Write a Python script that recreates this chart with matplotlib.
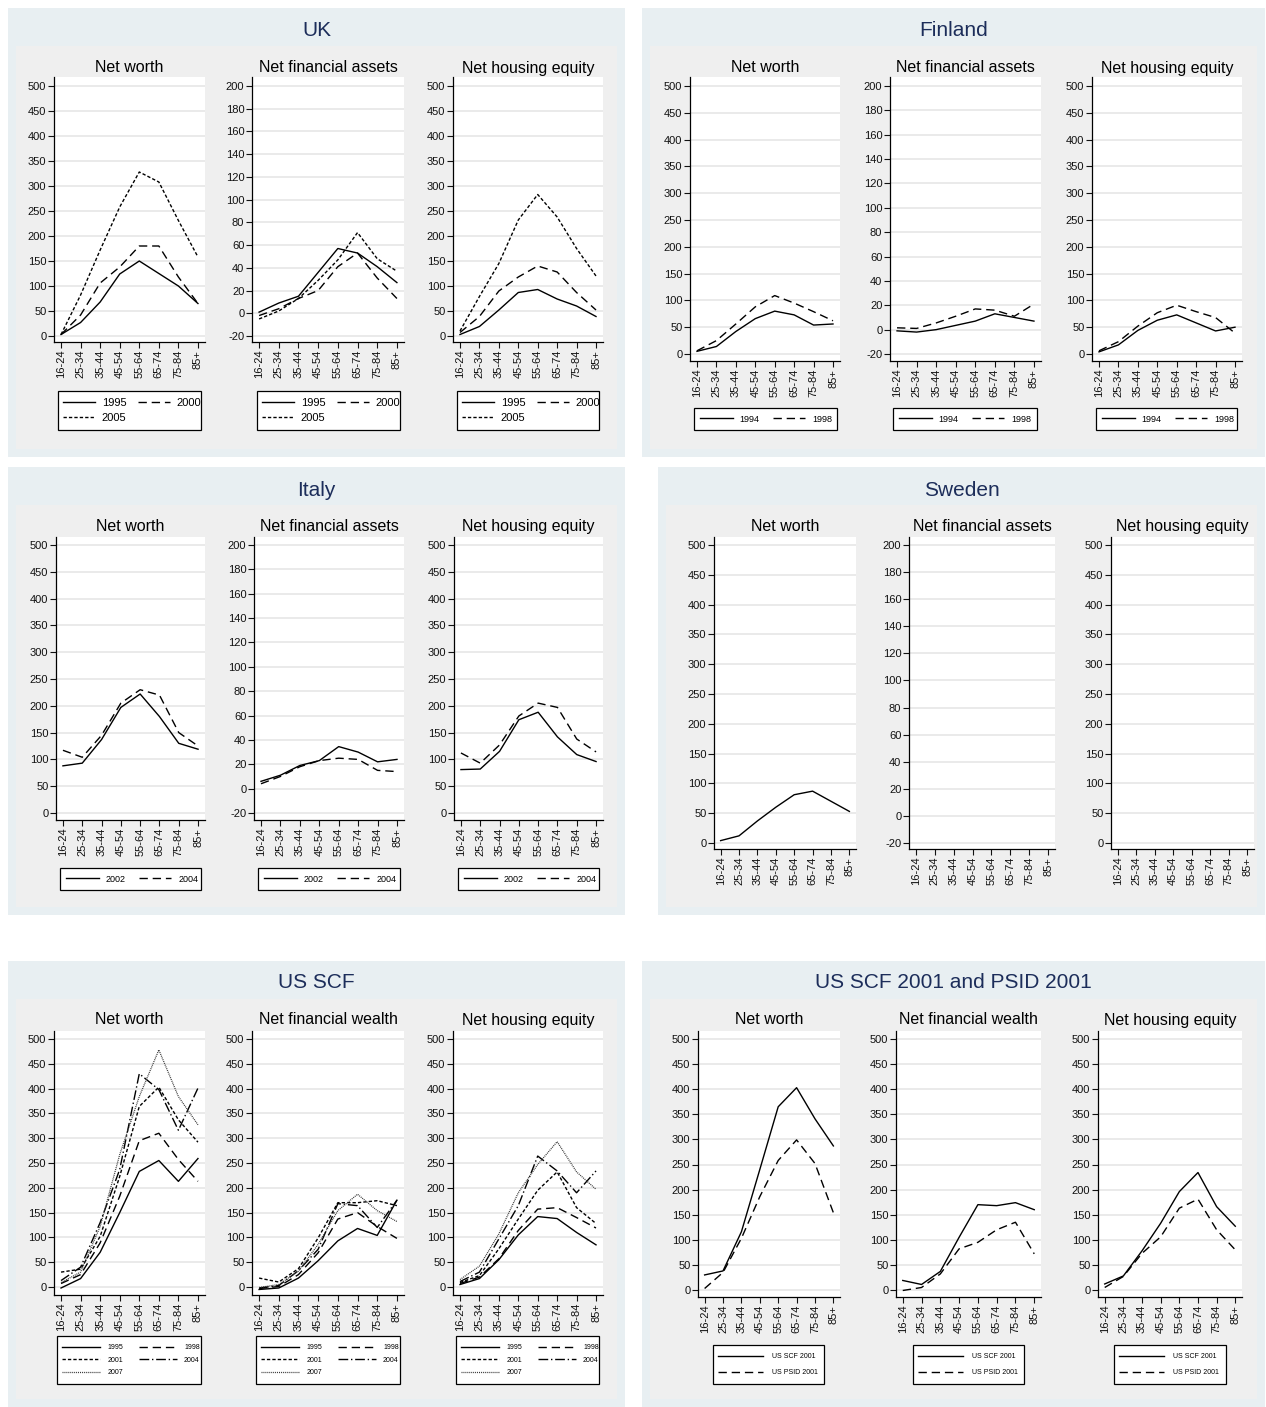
import matplotlib
matplotlib.use("Agg")
import matplotlib.pyplot as plt
from matplotlib.patches import Rectangle

plt.rcParams['font.family'] = ['Liberation Sans', 'DejaVu Sans']
plt.rcParams['lines.scale_dashes'] = False

# ---------------- data ----------------
ages = ['16-24', '25-34', '35-44', '45-54', '55-64', '65-74', '75-84', '85+']

uk_years = ['1995', '2000', '2005']
uk_nw_1995 = [3, 27, 68, 124, 150, 125, 100, 65]
uk_nw_2000 = [3, 42, 106, 138, 180, 180, 118, 65]
uk_nw_2005 = [3, 82, 172, 258, 328, 308, 231, 158]
uk_nfa_1995 = [1, 9, 15, 36, 57, 53, 41, 27]
uk_nfa_2000 = [-2, 4, 13, 20, 41, 53, 31, 13]
uk_nfa_2005 = [-5, 2, 13, 29, 47, 71, 48, 37]
uk_nhe_1995 = [3, 19, 52, 87, 93, 74, 60, 39]
uk_nhe_2000 = [7, 39, 90, 118, 140, 128, 87, 52]
uk_nhe_2005 = [10, 79, 145, 232, 283, 238, 175, 120]

fi_years = ['1994', '1998']
fi_nw_1994 = [5, 14, 42, 66, 80, 73, 54, 56]
fi_nw_1998 = [6, 25, 56, 88, 109, 95, 79, 62]
fi_nfa_1994 = [-1, -2, 0, 3.5, 7, 13, 10, 7]
fi_nfa_1998 = [1.5, 1, 5.5, 11, 17, 16, 11, 21]
fi_nhe_1994 = [4, 17, 44, 63, 73, 58, 43, 50]
fi_nhe_1998 = [6, 23, 52, 77, 91, 79, 68, 39]

it_years = ['2002', '2004']
it_nw_2002 = [88, 93, 137, 197, 222, 180, 130, 119]
it_nw_2004 = [117, 104, 145, 205, 230, 220, 150, 125]
it_nfa_2002 = [6, 11, 19, 23, 34.5, 30, 22, 24]
it_nfa_2004 = [4, 10, 18, 23, 25, 24, 15, 14]
it_nhe_2002 = [81, 82, 115, 174, 188, 142, 109, 96]
it_nhe_2004 = [112, 93, 127, 181, 205, 197, 138, 114]

se_nw = [4, 12, 37, 60, 81, 87, 70, 53]

us_years = ['1995', '1998', '2001', '2004', '2007']
us_nw_1995 = [-2, 17, 70, 150, 233, 255, 213, 259]
us_nw_1998 = [7, 25, 89, 183, 295, 310, 257, 213]
us_nw_2001 = [30, 36, 102, 223, 364, 403, 337, 292]
us_nw_2004 = [13, 40, 130, 237, 430, 398, 316, 401]
us_nw_2007 = [9, 30, 122, 267, 384, 478, 384, 327]
us_nfw_1995 = [-5, -2, 18, 53, 93, 118, 104, 175]
us_nfw_1998 = [-3, 1, 25, 69, 137, 150, 122, 98]
us_nfw_2001 = [18, 10, 37, 99, 170, 170, 174, 164]
us_nfw_2004 = [-2, 3, 33, 76, 168, 164, 120, 175]
us_nfw_2007 = [-1, 5, 32, 86, 154, 187, 154, 132]
us_nhe_1995 = [5, 17, 55, 105, 142, 138, 110, 85]
us_nhe_1998 = [7, 20, 57, 114, 157, 160, 140, 119]
us_nhe_2001 = [9, 23, 77, 137, 195, 232, 160, 128]
us_nhe_2004 = [11, 30, 97, 164, 264, 234, 190, 234]
us_nhe_2007 = [15, 42, 107, 190, 247, 293, 232, 197]

cmp_labels = ['US SCF 2001', 'US PSID 2001']
scf01_nw = [30, 38, 116, 240, 365, 403, 341, 287]
psid01_nw = [3, 35, 103, 186, 258, 299, 252, 154]
scf01_nfw = [19, 11, 37, 105, 170, 168, 174, 160]
psid01_nfw = [-1, 5, 32, 82, 95, 120, 135, 72]
scf01_nhe = [12, 28, 78, 133, 196, 234, 166, 127]
psid01_nhe = [5, 27, 73, 106, 163, 181, 120, 80]

# ---------------- styles ----------------
W, H = 1266, 1407
fig = plt.figure(figsize=(W / 100, H / 100), dpi=100)
fig.patch.set_facecolor('white')

OUTER = '#e8eff2'
INNER = '#efefef'
NAVY = '#1c2d5a'
GRID = '#e6e6e6'

STY = {
    'solid': dict(linestyle='-', color='black', lw=1.0),
    'long': dict(linestyle=(0, (6, 3.5)), color='black', lw=1.0),
    'short': dict(linestyle=(0, (2.4, 1.5)), color='black', lw=1.0),
    'dashdot': dict(linestyle=(0, (7, 2, 1, 2)), color='black', lw=1.0),
    'dot': dict(linestyle=(0, (0.7, 0.7)), color='#333333', lw=0.9),
}


def fx(x):
    return x / W


def fy(y):
    return 1 - y / H


def panel_bg(box, title, title_y):
    x0, y0, x1, y1 = box
    fig.patches.append(Rectangle((fx(x0), fy(y1)), (x1 - x0) / W, (y1 - y0) / H,
                                 transform=fig.transFigure, facecolor=OUTER,
                                 edgecolor='none', zorder=-10))
    fig.patches.append(Rectangle((fx(x0 + 8), fy(y1 - 8)), (x1 - x0 - 16) / W,
                                 (y1 - 8 - (y0 + 38)) / H,
                                 transform=fig.transFigure, facecolor=INNER,
                                 edgecolor='none', zorder=-9))
    fig.text(fx((x0 + x1) / 2), fy(title_y), title, ha='center', va='center',
             fontsize=15, color=NAVY)


def make_axes(xr, top, bottom, tick_hi_px, tick_lo_px, lo, hi, step, subtitle, sub_y):
    l, r = xr
    ax = fig.add_axes([fx(l), fy(bottom), (r - l) / W, (bottom - top) / H])
    scale = (tick_lo_px - tick_hi_px) / (hi - lo)
    ymax = hi + (tick_hi_px - top) / scale
    ymin = lo - (bottom - tick_lo_px) / scale
    ax.set_ylim(ymin, ymax)
    ax.set_xlim(-0.36, len(ages) - 1 + 0.36)
    ticks = list(range(lo, hi + 1, step))
    ax.set_yticks(ticks)
    ax.set_yticklabels([str(t) for t in ticks])
    ax.set_xticks(range(len(ages)))
    ax.set_xticklabels(ages, rotation=90)
    ax.tick_params(axis='both', labelsize=8, length=4, width=0.8, pad=1.5,
                   colors='#111111', direction='out')
    for s in ['top', 'right']:
        ax.spines[s].set_visible(False)
    for s in ['left', 'bottom']:
        ax.spines[s].set_linewidth(0.9)
        ax.spines[s].set_color('black')
    ax.set_facecolor('white')
    for t in ticks:
        ax.axhline(t, color=GRID, lw=1.2, zorder=0)
    fig.text(fx((l + r) / 2), fy(sub_y), subtitle, ha='center', va='center',
             fontsize=11.5, color='black')
    return ax


def add_legend(ax, handles, labels, box, ncol, fs, hl, tp, ls, colsp, x_in):
    x0, y0, x1, y1 = box
    fig.patches.append(Rectangle((fx(x0), fy(y1)), (x1 - x0) / W, (y1 - y0) / H,
                                 transform=fig.transFigure, facecolor='white',
                                 edgecolor='black', lw=0.9, zorder=-5))
    leg = ax.legend(handles, labels, ncol=ncol, fontsize=fs, handlelength=hl,
                    labelspacing=ls, columnspacing=colsp, handletextpad=tp,
                    loc='center left', borderaxespad=0, borderpad=0,
                    bbox_to_anchor=(fx(x0 + x_in), fy((y0 + y1) / 2)),
                    bbox_transform=fig.transFigure, frameon=False)
    return leg


def draw(ax, series_list, styles):
    hs = []
    for vals, st in zip(series_list, styles):
        h, = ax.plot(range(len(ages)), vals, **STY[st], zorder=3)
        hs.append(h)
    return hs


# ---------------- UK ----------------
panel_bg((8, 8, 625, 457), 'UK', 30)
uk_axes = [(54, 205), (252, 404), (453, 603)]
uk_leg = [(58, 391, 201, 430), (257, 391, 400, 430), (457, 391, 599, 430)]
uk_sub = ['Net worth', 'Net financial assets', 'Net housing equity']
uk_data = [[uk_nw_1995, uk_nw_2000, uk_nw_2005],
           [uk_nfa_1995, uk_nfa_2000, uk_nfa_2005],
           [uk_nhe_1995, uk_nhe_2000, uk_nhe_2005]]
uk_rng = [(0, 500, 50), (-20, 200, 20), (0, 500, 50)]
for i in range(3):
    lo, hi, st = uk_rng[i]
    ax = make_axes(uk_axes[i], 77, 342, 86, 336, lo, hi, st, uk_sub[i], 68)
    hs = draw(ax, uk_data[i], ['solid', 'long', 'short'])
    add_legend(ax, [hs[0], hs[2], hs[1]], [uk_years[0], uk_years[2], uk_years[1]],
               uk_leg[i], 2, 8, 2.9, 0.6, 0.45, 1.0, 5)

# ---------------- Finland ----------------
panel_bg((642, 8, 1265, 457), 'Finland', 30)
fi_axes = [(690, 840), (890, 1041), (1092, 1242)]
fi_leg = [(694, 408, 837, 430), (893, 408, 1037, 430), (1096, 408, 1237, 430)]
fi_data = [[fi_nw_1994, fi_nw_1998], [fi_nfa_1994, fi_nfa_1998], [fi_nhe_1994, fi_nhe_1998]]
for i in range(3):
    lo, hi, st = uk_rng[i]
    ax = make_axes(fi_axes[i], 77, 361, 86, 354, lo, hi, st, uk_sub[i], 68)
    hs = draw(ax, fi_data[i], ['solid', 'long'])
    add_legend(ax, hs, fi_years, fi_leg[i], 2, 6.5, 3.6, 0.8, 0.5, 1.45, 6)

# ---------------- Italy ----------------
panel_bg((8, 467, 625, 915), 'Italy', 490)
it_axes = [(56, 205), (254, 404), (454, 603)]
it_leg = [(60, 868, 201, 890), (258, 868, 400, 890), (458, 868, 599, 890)]
it_data = [[it_nw_2002, it_nw_2004], [it_nfa_2002, it_nfa_2004], [it_nhe_2002, it_nhe_2004]]
for i in range(3):
    lo, hi, st = uk_rng[i]
    ax = make_axes(it_axes[i], 537, 820, 545, 813, lo, hi, st, uk_sub[i], 527)
    hs = draw(ax, it_data[i], ['solid', 'long'])
    add_legend(ax, hs, it_years, it_leg[i], 2, 6.5, 3.6, 0.8, 0.5, 1.45, 6)

# ---------------- Sweden ----------------
panel_bg((658, 467, 1265, 915), 'Sweden', 490)
se_axes = [(714, 856), (909, 1055), (1111, 1254)]
for i in range(3):
    lo, hi, st = uk_rng[i]
    ax = make_axes(se_axes[i], 537, 849, 545, 843, lo, hi, st, uk_sub[i], 527)
    if i == 0:
        draw(ax, [se_nw], ['solid'])

# ---------------- US SCF ----------------
panel_bg((8, 961, 625, 1407), 'US SCF', 983)
us_axes = [(54, 205), (252, 404), (453, 603)]
us_leg = [(57, 1336, 201, 1384), (256, 1336, 400, 1384), (456, 1336, 599, 1384)]
us_sub = ['Net worth', 'Net financial wealth', 'Net housing equity']
us_data = [[us_nw_1995, us_nw_1998, us_nw_2001, us_nw_2004, us_nw_2007],
           [us_nfw_1995, us_nfw_1998, us_nfw_2001, us_nfw_2004, us_nfw_2007],
           [us_nhe_1995, us_nhe_1998, us_nhe_2001, us_nhe_2004, us_nhe_2007]]
for i in range(3):
    ax = make_axes(us_axes[i], 1031, 1295, 1039, 1287, 0, 500, 50, us_sub[i], 1020)
    hs = draw(ax, us_data[i], ['solid', 'long', 'short', 'dashdot', 'dot'])
    order = [0, 2, 4, 1, 3]
    add_legend(ax, [hs[k] for k in order], [us_years[k] for k in order],
               us_leg[i], 2, 5, 5.5, 1.0, 0.8, 2.3, 5)

# ---------------- US SCF 2001 and PSID 2001 ----------------
panel_bg((642, 961, 1265, 1407), 'US SCF 2001 and PSID 2001', 983)
cmp_axes = [(698, 840), (896, 1041), (1098, 1242)]
cmp_leg = [(713, 1345, 824, 1384), (913, 1345, 1024, 1384), (1114, 1345, 1226, 1384)]
cmp_data = [[scf01_nw, psid01_nw], [scf01_nfw, psid01_nfw], [scf01_nhe, psid01_nhe]]
for i in range(3):
    ax = make_axes(cmp_axes[i], 1031, 1297, 1039, 1290, 0, 500, 50, us_sub[i], 1020)
    hs = draw(ax, cmp_data[i], ['solid', 'long'])
    add_legend(ax, hs, cmp_labels, cmp_leg[i], 1, 5, 6.5, 1.3, 1.3, 1.0, 5)

fig.savefig('out.png', dpi=100, facecolor='white')
